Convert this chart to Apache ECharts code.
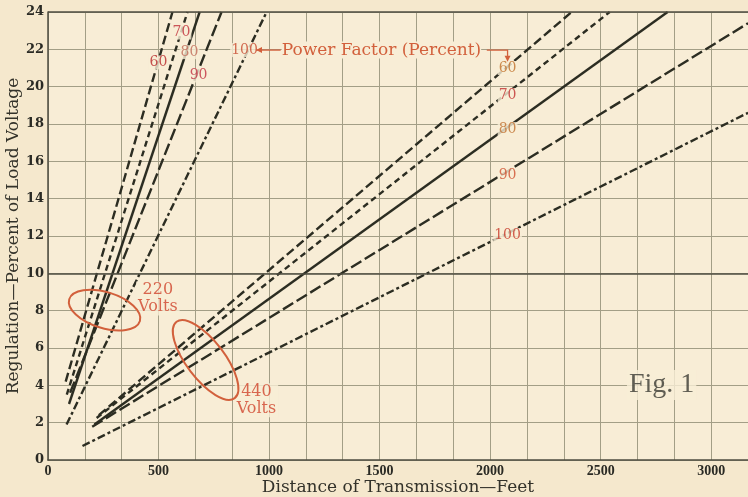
<!DOCTYPE html>
<html>
<head>
<meta charset="utf-8">
<script src="https://cdn.jsdelivr.net/npm/echarts/dist/echarts.min.js"></script>
<style>
html, body { margin: 0; padding: 0; background: #f5e8cd; }
#main { width: 748px; height: 497px; }
</style>
</head>
<body>
<div id="main"></div>
<script>
// power factor curves, one line per PF for each voltage
const powerFactors = ['60', '70', '80', '90', '100']
const dist220Start = [80, 85, 95, 100, 84]
const reg220Start = [4.2, 3.5, 3.0, 3.6, 1.9]
const dist220End = [563, 631, 686, 785, 989]
const reg220End = [24, 24, 24, 24, 24]
const dist440Start = [230, 220, 210, 200, 156]
const reg440Start = [2.4, 2.25, 1.9, 1.78, 0.75]
const dist440End = [2369, 2541, 2803, 3167, 3167]
const reg440End = [24, 24, 24, 23.4, 18.6]

// where the PF numbers sit on the lines
const label220Dist = [500, 604, 640, 681, 889]
const label220Reg = [21.3, 22.9, 21.85, 20.6, 21.96]
const label440Dist = [2079, 2079, 2079, 2079, 2079]
const label440Reg = [21.0, 19.55, 17.73, 15.27, 12.05]

const xTicks = [0, 500, 1000, 1500, 2000, 2500, 3000]
const xMax = 3166.67

const ink = '#2c2d22'
const paper = '#f8edd6'
const clear = 'rgba(0,0,0,0)'
const serif = '"DejaVu Serif", serif'
const dashes = [[9, 4], [6, 4], 'solid', [12, 4], [8, 3, 3, 3]]
const colors220 = ['#b8282a', '#c0303a', '#c06a58', '#c03040', '#c84a30']
const colors440 = ['#c0702a', '#c03030', '#c07030', '#d05030', '#c83a2a']

const chart = echarts.init(document.getElementById('main'))

function pfLine(x0, y0, x1, y1, i) {
  return {
    type: 'line',
    data: [[x0, y0], [x1, y1]],
    symbol: 'none',
    silent: true,
    z: 3,
    lineStyle: { color: ink, width: 2.4, type: dashes[i], cap: 'butt' }
  }
}

function pfLabels(dist, reg, cols) {
  return {
    type: 'scatter',
    symbolSize: 1,
    itemStyle: { color: clear },
    silent: true,
    z: 5,
    data: powerFactors.map((pf, i) => ({
      name: pf,
      value: [dist[i], reg[i]],
      label: { color: cols[i] }
    })),
    label: {
      show: true,
      position: 'inside',
      formatter: p => p.name,
      fontFamily: serif,
      fontSize: 14,
      backgroundColor: paper,
      padding: [0, 1]
    }
  }
}

const series = []
powerFactors.forEach((pf, i) => {
  series.push(pfLine(dist220Start[i], reg220Start[i], dist220End[i], reg220End[i], i))
  series.push(pfLine(dist440Start[i], reg440Start[i], dist440End[i], reg440End[i], i))
})
series.push(pfLabels(label220Dist, label220Reg, colors220))
series.push(pfLabels(label440Dist, label440Reg, colors440))

// dark rules at 10 % and at the top edge
series.push({
  type: 'line',
  data: [],
  markLine: {
    silent: true,
    symbol: 'none',
    label: { show: false },
    lineStyle: { color: '#4e4c40', width: 1.5, type: 'solid' },
    data: [{ yAxis: 10 }, { yAxis: 24 }]
  }
})

// volts text and fig caption
series.push({
  type: 'scatter',
  symbolSize: 1,
  itemStyle: { color: clear },
  silent: true,
  z: 6,
  data: [
    { name: '220\nVolts', value: [497, 8.65] },
    { name: '440\nVolts', value: [943, 3.2] },
    { name: 'Fig. 1', value: [2776, 4.02], label: { fontFamily: '"Liberation Serif", serif', fontSize: 28, color: '#3a3a32', lineHeight: 30 } }
  ],
  label: {
    show: true,
    position: 'inside',
    formatter: p => p.name,
    fontFamily: serif,
    fontSize: 16,
    lineHeight: 17,
    align: 'center',
    color: '#d0442c',
    backgroundColor: paper,
    padding: [0, 2]
  }
})

chart.setOption({
  backgroundColor: '#f5e8cd',
  animation: false,
  grid: {
    left: 48, top: 12, right: 0, bottom: 37,
    outerBoundsMode: 'none', containLabel: false,
    show: true, backgroundColor: paper, borderWidth: 0
  },
  xAxis: {
    type: 'value',
    min: 0,
    max: xMax,
    interval: 500 / 3,
    name: 'Distance of Transmission—Feet',
    nameLocation: 'middle',
    nameGap: 19,
    nameMoveOverlap: false,
    nameTextStyle: { fontFamily: serif, fontSize: 17, color: '#33322a' },
    axisLine: { show: true, lineStyle: { color: '#4e4c40', width: 1.5 } },
    axisTick: { show: false },
    axisLabel: {
      margin: 4,
      hideOverlap: false,
      fontFamily: '"Liberation Serif", serif',
      fontWeight: 'bold',
      fontSize: 14,
      color: '#2a2a24',
      showMaxLabel: false,
      formatter: v => {
        const t = xTicks.find(k => Math.abs(k - v) < 1)
        return t === undefined ? '' : String(t)
      }
    },
    splitLine: { show: true, lineStyle: { color: '#a39e86', width: 1 } }
  },
  yAxis: {
    type: 'value',
    min: 0,
    max: 24,
    interval: 2,
    name: 'Regulation—Percent of Load Voltage',
    nameLocation: 'middle',
    nameGap: 26,
    nameMoveOverlap: false,
    nameTextStyle: { fontFamily: serif, fontSize: 17, color: '#33322a' },
    axisLine: { show: true, lineStyle: { color: '#4e4c40', width: 1.5 } },
    axisTick: { show: false },
    axisLabel: { margin: 4, fontFamily: serif, fontWeight: 'bold', fontSize: 13, color: '#2a2a24' },
    splitLine: { show: true, lineStyle: { color: '#a39e86', width: 1 } }
  },
  series: series
})

// annotations placed from data coordinates
const px = (x, y) => chart.convertToPixel({ gridIndex: 0 }, [x, y])
const red = '#d2603c'
const c220 = px(256, 8.03)
const c440 = px(713, 5.36)
const pfText = px(1057, 21.96)
const arrowTip = px(941, 21.96)
const hookEnd = px(2079, 21.5)
const hookStart = px(1985, 21.96)

chart.setOption({
  graphic: [
    {
      type: 'ellipse', x: c220[0], y: c220[1], rotation: -0.3, z: 10, silent: true,
      shape: { cx: 0, cy: 0, rx: 37, ry: 18 },
      style: { fill: null, stroke: red, lineWidth: 2 }
    },
    {
      type: 'ellipse', x: c440[0], y: c440[1], rotation: -0.92, z: 10, silent: true,
      shape: { cx: 0, cy: 0, rx: 48, ry: 19 },
      style: { fill: null, stroke: red, lineWidth: 2 }
    },
    {
      type: 'text', x: pfText[0], y: pfText[1], z: 10, silent: true,
      style: { text: 'Power Factor (Percent)', fill: red, font: '17px ' + serif, verticalAlign: 'middle', backgroundColor: paper }
    },
    {
      type: 'polyline', z: 10, silent: true,
      shape: { points: [[arrowTip[0], arrowTip[1]], [pfText[0] - 1, pfText[1]]] },
      style: { stroke: red, lineWidth: 1.3 }
    },
    {
      type: 'polygon', z: 10, silent: true,
      shape: { points: [[arrowTip[0], arrowTip[1]], [arrowTip[0] + 6, arrowTip[1] - 3], [arrowTip[0] + 6, arrowTip[1] + 3]] },
      style: { fill: red }
    },
    {
      type: 'polyline', z: 10, silent: true,
      shape: { points: [[hookStart[0], hookStart[1]], [hookEnd[0], hookStart[1]], [hookEnd[0], hookEnd[1]]] },
      style: { stroke: red, lineWidth: 1.3 }
    },
    {
      type: 'polygon', z: 10, silent: true,
      shape: { points: [[hookEnd[0], hookEnd[1] + 3], [hookEnd[0] - 3, hookEnd[1] - 3], [hookEnd[0] + 3, hookEnd[1] - 3]] },
      style: { fill: red }
    }
  ]
})
</script>
</body>
</html>
